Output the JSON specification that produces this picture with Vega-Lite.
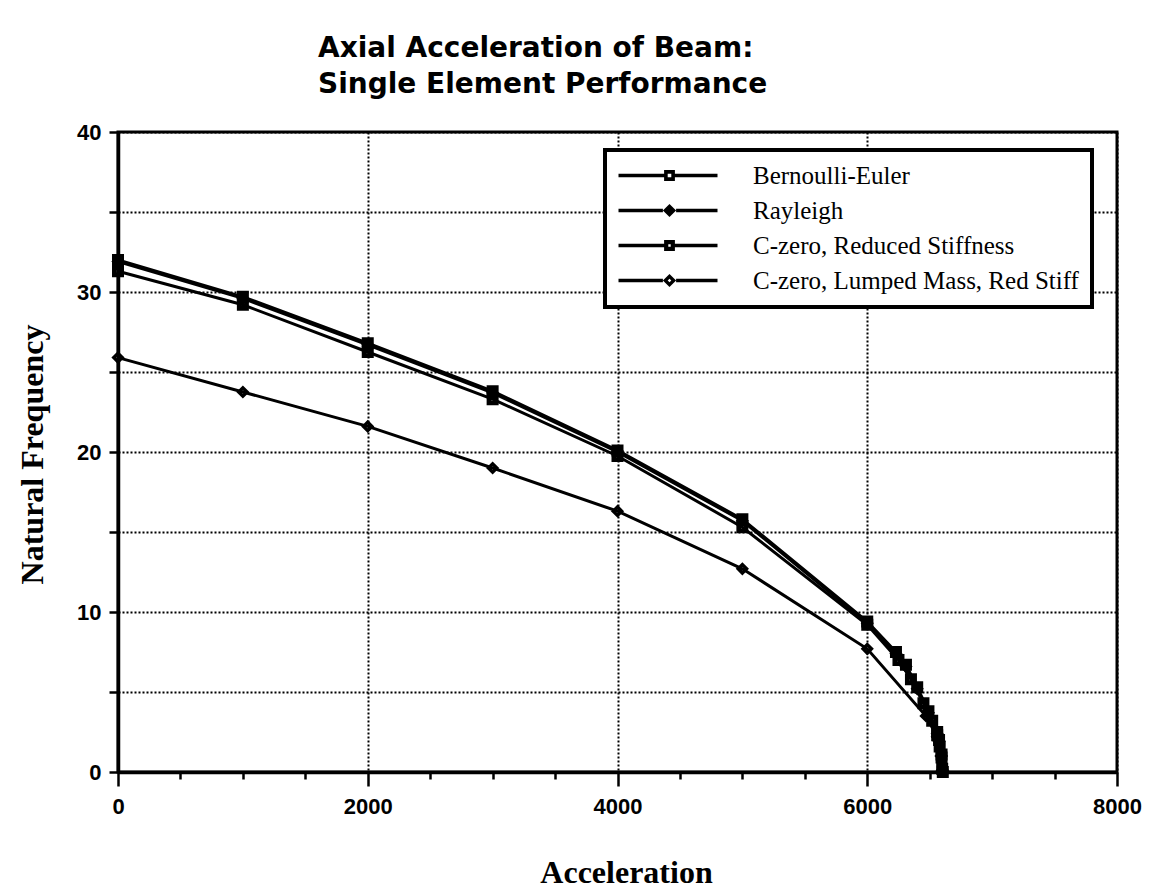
{
  "$schema": "https://vega.github.io/schema/vega-lite/v6.json",
  "width": 999,
  "height": 640,
  "autosize": "none",
  "padding": {"left": 118, "top": 132, "right": 33, "bottom": 116},
  "background": "white",
  "title": {
    "text": ["Axial Acceleration of Beam:", "Single Element Performance"],
    "anchor": "start",
    "frame": "group",
    "dx": 200,
    "offset": 22,
    "font": "DejaVu Sans",
    "fontSize": 28,
    "fontWeight": "bold",
    "lineHeight": 36,
    "color": "black"
  },
  "config": {
    "view": {"stroke": "black", "strokeWidth": 3},
    "legend": {"strokeWidth": 4},
    "axis": {
      "domainColor": "black",
      "domainWidth": 3.5,
      "tickColor": "black",
      "tickWidth": 2.5,
      "labelColor": "black",
      "labelFont": "Liberation Sans",
      "labelFontWeight": "bold",
      "labelFontSize": 22,
      "titleColor": "black",
      "titleFont": "Liberation Serif",
      "titleFontWeight": "bold",
      "titleFontSize": 32,
      "gridColor": "black",
      "gridDash": [2, 2],
      "gridWidth": 2
    }
  },
  "data": {
    "values": [
      {"series": "Bernoulli-Euler", "acc": 0, "freq": 32.0},
      {"series": "Bernoulli-Euler", "acc": 1000, "freq": 29.7},
      {"series": "Bernoulli-Euler", "acc": 2000, "freq": 26.8},
      {"series": "Bernoulli-Euler", "acc": 3000, "freq": 23.8},
      {"series": "Bernoulli-Euler", "acc": 4000, "freq": 20.1},
      {"series": "Bernoulli-Euler", "acc": 5000, "freq": 15.8},
      {"series": "Bernoulli-Euler", "acc": 6000, "freq": 9.4},
      {"series": "Bernoulli-Euler", "acc": 6230, "freq": 7.5},
      {"series": "Bernoulli-Euler", "acc": 6310, "freq": 6.7},
      {"series": "Bernoulli-Euler", "acc": 6400, "freq": 5.3},
      {"series": "Bernoulli-Euler", "acc": 6490, "freq": 3.8},
      {"series": "Bernoulli-Euler", "acc": 6560, "freq": 2.5},
      {"series": "Bernoulli-Euler", "acc": 6575, "freq": 2.0},
      {"series": "Bernoulli-Euler", "acc": 6595, "freq": 1.1},
      {"series": "Bernoulli-Euler", "acc": 6600, "freq": 0.2},
      {"series": "Rayleigh", "acc": 0, "freq": 31.9},
      {"series": "Rayleigh", "acc": 1000, "freq": 29.6},
      {"series": "Rayleigh", "acc": 2000, "freq": 26.7},
      {"series": "Rayleigh", "acc": 3000, "freq": 23.7},
      {"series": "Rayleigh", "acc": 4000, "freq": 20.0},
      {"series": "Rayleigh", "acc": 5000, "freq": 15.7},
      {"series": "Rayleigh", "acc": 6000, "freq": 9.3},
      {"series": "Rayleigh", "acc": 6230, "freq": 7.4},
      {"series": "Rayleigh", "acc": 6310, "freq": 6.6},
      {"series": "Rayleigh", "acc": 6400, "freq": 5.2},
      {"series": "Rayleigh", "acc": 6490, "freq": 3.7},
      {"series": "Rayleigh", "acc": 6560, "freq": 2.4},
      {"series": "Rayleigh", "acc": 6575, "freq": 1.9},
      {"series": "Rayleigh", "acc": 6595, "freq": 1.0},
      {"series": "Rayleigh", "acc": 6600, "freq": 0.1},
      {"series": "C-zero, Reduced Stiffness", "acc": 0, "freq": 31.3},
      {"series": "C-zero, Reduced Stiffness", "acc": 1000, "freq": 29.2},
      {"series": "C-zero, Reduced Stiffness", "acc": 2000, "freq": 26.25},
      {"series": "C-zero, Reduced Stiffness", "acc": 3000, "freq": 23.3},
      {"series": "C-zero, Reduced Stiffness", "acc": 4000, "freq": 19.75},
      {"series": "C-zero, Reduced Stiffness", "acc": 5000, "freq": 15.3},
      {"series": "C-zero, Reduced Stiffness", "acc": 6000, "freq": 9.2},
      {"series": "C-zero, Reduced Stiffness", "acc": 6250, "freq": 7.0},
      {"series": "C-zero, Reduced Stiffness", "acc": 6350, "freq": 5.8},
      {"series": "C-zero, Reduced Stiffness", "acc": 6450, "freq": 4.3},
      {"series": "C-zero, Reduced Stiffness", "acc": 6520, "freq": 3.2},
      {"series": "C-zero, Reduced Stiffness", "acc": 6560, "freq": 2.3},
      {"series": "C-zero, Reduced Stiffness", "acc": 6580, "freq": 1.6},
      {"series": "C-zero, Reduced Stiffness", "acc": 6595, "freq": 0.9},
      {"series": "C-zero, Reduced Stiffness", "acc": 6605, "freq": 0.0},
      {"series": "C-zero, Lumped Mass, Red Stiff", "acc": 0, "freq": 25.9},
      {"series": "C-zero, Lumped Mass, Red Stiff", "acc": 1000, "freq": 23.75},
      {"series": "C-zero, Lumped Mass, Red Stiff", "acc": 2000, "freq": 21.6},
      {"series": "C-zero, Lumped Mass, Red Stiff", "acc": 3000, "freq": 19.0},
      {"series": "C-zero, Lumped Mass, Red Stiff", "acc": 4000, "freq": 16.3},
      {"series": "C-zero, Lumped Mass, Red Stiff", "acc": 5000, "freq": 12.7},
      {"series": "C-zero, Lumped Mass, Red Stiff", "acc": 6000, "freq": 7.7},
      {"series": "C-zero, Lumped Mass, Red Stiff", "acc": 6470, "freq": 3.5},
      {"series": "C-zero, Lumped Mass, Red Stiff", "acc": 6560, "freq": 2.2},
      {"series": "C-zero, Lumped Mass, Red Stiff", "acc": 6590, "freq": 1.0},
      {"series": "C-zero, Lumped Mass, Red Stiff", "acc": 6605, "freq": 0.1}
    ]
  },
  "encoding": {
    "x": {
      "field": "acc",
      "type": "quantitative",
      "scale": {"domain": [0, 8000], "nice": false, "zero": false},
      "axis": {
        "title": "Acceleration",
        "values": [0, 500, 1000, 1500, 2000, 2500, 3000, 3500, 4000, 4500, 5000, 5500, 6000, 6500, 7000, 7500, 8000],
        "labelExpr": "datum.value % 2000 === 0 ? datum.label : ''",
        "format": "d",
        "grid": true,
        "gridOpacity": {"condition": {"test": "datum.value % 2000 === 0", "value": 1}, "value": 0},
        "tickSize": {"condition": {"test": "datum.value % 2000 === 0", "value": 14}, "value": 7},
        "labelPadding": 10,
        "labelFlush": false,
        "titleX": 508,
        "titleY": 100,
        "titleBaseline": "middle",
        "titleAlign": "center"
      }
    },
    "y": {
      "field": "freq",
      "type": "quantitative",
      "scale": {"domain": [0, 40], "nice": false},
      "axis": {
        "title": "Natural Frequency",
        "values": [0, 5, 10, 15, 20, 25, 30, 35, 40],
        "labelExpr": "datum.value % 10 === 0 ? datum.label : ''",
        "grid": true,
        "tickSize": 9,
        "labelPadding": 8,
        "titleAngle": -90,
        "titleX": -86,
        "titleY": 322,
        "titleAlign": "center",
        "titleBaseline": "middle"
      }
    }
  },
  "layer": [
    {
      "mark": {"type": "line", "color": "black", "strokeWidth": 3},
      "encoding": {"detail": {"field": "series"}}
    },
    {
      "mark": {"type": "point", "filled": true, "color": "black", "opacity": 1, "size": 144},
      "encoding": {
        "shape": {
          "field": "series",
          "scale": {
            "domain": ["Bernoulli-Euler", "Rayleigh", "C-zero, Reduced Stiffness", "C-zero, Lumped Mass, Red Stiff"],
            "range": [
              "M-1,-1H1V1H-1Z M-0.3,-0.3V0.3H0.3V-0.3Z",
              "M0,-1.1L1.1,0L0,1.1L-1.1,0Z",
              "M-1,-1H1V1H-1Z M-0.2,-0.2V0.2H0.2V-0.2Z",
              "M0,-1.1L1.1,0L0,1.1L-1.1,0Z M0,-0.3L-0.3,0L0,0.3L0.3,0Z"
            ]
          },
          "legend": null
        }
      }
    },
    {
      "transform": [{"filter": "false"}],
      "mark": {"type": "point", "filled": true, "color": "black", "opacity": 1},
      "encoding": {
        "shape": {
          "field": "series",
          "scale": {
            "domain": ["Bernoulli-Euler", "Rayleigh", "C-zero, Reduced Stiffness", "C-zero, Lumped Mass, Red Stiff"],
            "range": [
              "M-4.25,-0.14H-0.45V0.14H-4.25Z M0.45,-0.14H4V0.14H0.45Z M-0.45,-0.45H0.45V0.45H-0.45Z M-0.15,-0.15V0.15H0.15V-0.15Z",
              "M-4.25,-0.14H-0.55V0.14H-4.25Z M0.55,-0.14H4V0.14H0.55Z M0,-0.55L0.55,0L0,0.55L-0.55,0Z",
              "M-4.25,-0.14H-0.45V0.14H-4.25Z M0.45,-0.14H4V0.14H0.45Z M-0.45,-0.45H0.45V0.45H-0.45Z M-0.1,-0.1V0.1H0.1V-0.1Z",
              "M-4.25,-0.14H-0.55V0.14H-4.25Z M0.55,-0.14H4V0.14H0.55Z M0,-0.55L0.55,0L0,0.55L-0.55,0Z M0,-0.15L-0.15,0L0,0.15L0.15,0Z"
            ]
          },
          "legend": {
            "title": null,
            "orient": "none",
            "legendX": 487,
            "legendY": 18,
            "padding": 13,
            "rowPadding": 9,
            "fillColor": "white",
            "strokeColor": "black",
            "symbolSize": 576,
            "symbolOffset": 39,
            "symbolStrokeWidth": 0,
            "symbolFillColor": "black",
            "labelOffset": 71,
            "labelFont": "Liberation Serif",
            "labelFontSize": 25,
            "labelColor": "black",
            "labelLimit": 500,
            "encode": {"legend": {"update": {"strokeWidth": {"value": 4}}}}
          }
        }
      }
    }
  ],
  "resolve": {"scale": {"shape": "independent"}, "legend": {"shape": "independent"}}
}
